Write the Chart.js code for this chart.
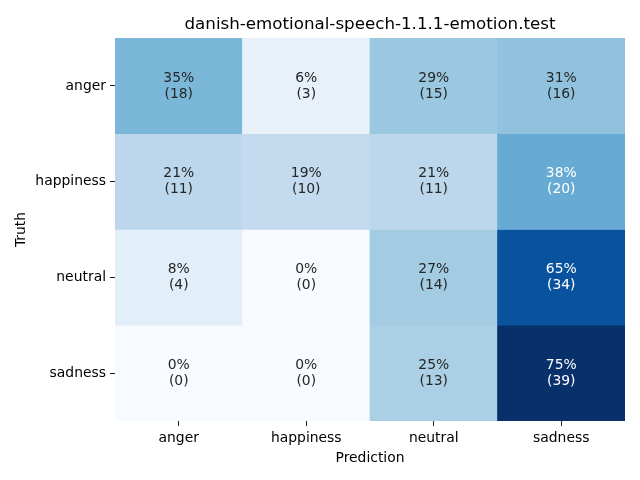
<!DOCTYPE html>
<html>
<head>
<meta charset="utf-8">
<script src="https://cdn.jsdelivr.net/npm/chart.js@4"></script>
<style>
  html, body { margin: 0; padding: 0; background: #fff; }
  #wrap { width: 640px; height: 480px; }
</style>
</head>
<body>
<div id="wrap"><canvas id="cm" width="640" height="480"></canvas></div>
<script>
const categories = ['anger', 'happiness', 'neutral', 'sadness'];
const angerRow = [18, 3, 15, 16];
const happinessRow = [11, 10, 11, 20];
const neutralRow = [4, 0, 14, 34];
const sadnessRow = [0, 0, 13, 39];
const rows = [angerRow, happinessRow, neutralRow, sadnessRow];

const pct = rows.map(r => {
  const tot = r.reduce((a, b) => a + b, 0);
  return r.map(v => v / tot * 100);
});
const maxPct = Math.max(...pct.flat());

// matplotlib "Blues"
const blues = ['#f7fbff','#deebf7','#c6dbef','#9ecae1','#6baed6','#4292c6','#2171b5','#08519c','#08306b'];
function hex(h) { return [1, 3, 5].map(i => parseInt(h.slice(i, i + 2), 16)); }
function bluesAt(t) {
  t = Math.max(0, Math.min(1, t));
  const p = t * (blues.length - 1);
  const i = Math.min(Math.floor(p), blues.length - 2);
  const f = p - i;
  const a = hex(blues[i]), b = hex(blues[i + 1]);
  const c = a.map((v, k) => Math.round(v + (b[k] - v) * f));
  return `rgb(${c[0]},${c[1]},${c[2]})`;
}

const FONT = 'DejaVu Sans';

const datasets = rows.map((r, ri) => ({
  label: categories[ri],
  data: r.map(() => 1),
  backgroundColor: pct[ri].map(p => bluesAt(p / maxPct)),
  borderWidth: 0,
  barPercentage: 1,
  categoryPercentage: 1
}));

const cellText = {
  id: 'cellText',
  afterDatasetsDraw(chart) {
    const ctx = chart.ctx;
    ctx.save();
    ctx.font = `13.9px "${FONT}"`;
    ctx.textAlign = 'center';
    ctx.textBaseline = 'middle';
    rows.forEach((r, ri) => {
      const meta = chart.getDatasetMeta(ri);
      meta.data.forEach((bar, ci) => {
        const cy = (bar.y + bar.base) / 2;
        const norm = pct[ri][ci] / maxPct;
        ctx.fillStyle = norm > 0.5 ? '#ffffff' : '#262626';
        ctx.fillText(Math.round(pct[ri][ci]) + '%', bar.x, cy - 8);
        ctx.fillText('(' + r[ci] + ')', bar.x, cy + 8);
      });
    });
    ctx.restore();
  }
};

new Chart(document.getElementById('cm'), {
  type: 'bar',
  data: { labels: categories, datasets },
  options: {
    responsive: false,
    animation: false,
    layout: { padding: { top: 0, right: 15, left: 0, bottom: 0 } },
    plugins: {
      legend: { display: false },
      tooltip: { enabled: false },
      title: {
        display: true,
        fullSize: false,
        text: 'danish-emotional-speech-1.1.1-emotion.test',
        color: '#000',
        font: { family: FONT, size: 16.7, weight: 'normal' },
        padding: { top: 15, bottom: 3 }
      }
    },
    scales: {
      x: {
        stacked: true,
        offset: true,
        border: { display: false },
        grid: { display: true, offset: false, drawOnChartArea: false, drawTicks: true, tickLength: 5, color: '#000', tickColor: '#222' },
        ticks: { color: '#000', font: { family: FONT, size: 13.9 }, padding: 4, maxRotation: 0 },
        title: { display: true, text: 'Prediction', color: '#000', font: { family: FONT, size: 13.9 }, padding: { top: 0, bottom: 13 } },
        afterFit(s) { s.height = 59; }
      },
      y: {
        stacked: true,
        reverse: true,
        min: 0,
        max: 4,
        border: { display: false },
        afterBuildTicks(s) { s.ticks = [0.5, 1.5, 2.5, 3.5].map(v => ({ value: v })); },
        grid: { display: true, drawOnChartArea: false, drawTicks: true, tickLength: 5, tickColor: '#222' },
        ticks: {
          color: '#000',
          font: { family: FONT, size: 13.9 },
          padding: 4,
          callback: (v) => categories[Math.floor(v)]
        },
        title: { display: true, text: 'Truth', color: '#000', font: { family: FONT, size: 13.9 }, padding: { top: 13, bottom: 0 } },
        afterFit(s) { s.width = 115; }
      }
    }
  },
  plugins: [cellText]
});
</script>
</body>
</html>
